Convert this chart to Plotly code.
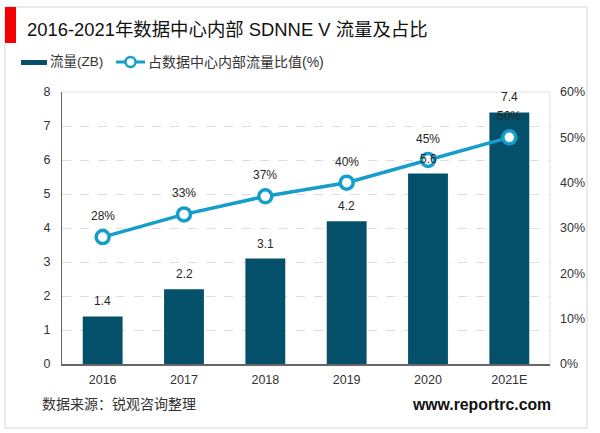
import plotly.graph_objects as go

categories = ["2016", "2017", "2018", "2019", "2020", "2021E"]
traffic = [1.4, 2.2, 3.1, 4.2, 5.6, 7.4]
share = [28, 33, 37, 40, 45, 50]
left_ticks = [0, 1, 2, 3, 4, 5, 6, 7, 8]
right_ticks = [0, 10, 20, 30, 40, 50, 60]
right_labels = ["0%", "10%", "20%", "30%", "40%", "50%", "60%"]

FONT = "Liberation Sans, Arial, Noto Sans CJK SC, sans-serif"
BAR = "#04506b"
LINE = "#159dcb"
W, H = 600, 433
def px(x): return x / W
def py(y): return 1 - y / H

fig = go.Figure()
fig.add_trace(go.Bar(x=categories, y=traffic, width=0.49, marker=dict(color=BAR, line=dict(width=0)),
                     name="流量(ZB)", showlegend=False, yaxis="y"))
fig.add_trace(go.Scatter(x=categories, y=share, yaxis="y2", mode="lines+markers",
                         name="占数据中心内部流量比值(%)", showlegend=False,
                         line=dict(color=LINE, width=3.5),
                         marker=dict(size=13, color="white", line=dict(color=LINE, width=3.5)),
                         cliponaxis=False))

shapes = [
    dict(type="rect", xref="paper", yref="paper", x0=px(5), x1=px(587), y0=py(428), y1=py(7),
         line=dict(color="#e4e4e4", width=1.5), layer="below"),
    dict(type="rect", xref="paper", yref="paper", x0=px(5), x1=px(16), y0=py(43), y1=py(7),
         line=dict(width=0), fillcolor="#f50000"),
    dict(type="line", xref="paper", yref="paper", x0=px(550), x1=px(550), y0=py(364), y1=py(92),
         line=dict(color="#e6e6e6", width=1.2)),
    dict(type="line", xref="paper", yref="paper", x0=px(62), x1=px(550), y0=py(92), y1=py(92),
         line=dict(color="#e6e6e6", width=1.2)),
    dict(type="rect", xref="paper", yref="paper", x0=px(21), x1=px(47), y0=py(65), y1=py(60),
         line=dict(width=0), fillcolor=BAR),
    dict(type="line", xref="paper", yref="paper", x0=px(116), x1=px(145), y0=py(62), y1=py(62),
         line=dict(color=LINE, width=3)),
    dict(type="circle", xref="paper", yref="paper", x0=px(125.5), x1=px(135.5), y0=py(67), y1=py(57),
         line=dict(color=LINE, width=2.5), fillcolor="white"),
]
def note(x, y, text, size, color="#262626", anchor="left", bold=False):
    return dict(xref="paper", yref="paper", x=px(x), y=py(y), text=f"<b>{text}</b>" if bold else text,
                showarrow=False, xanchor=anchor, yanchor="middle",
                font=dict(size=size, color=color, family=FONT))
annotations = [
    note(25, 29, "2016-2021年数据中心内部 SDNNE V 流量及占比", 18.4, "#111111"),
    note(48, 62, "流量(ZB)", 13.5, "#333333"),
    note(146, 62, "占数据中心内部流量比值(%)", 14, "#333333"),
    note(40, 404, "数据来源：锐观咨询整理", 14, "#333333"),
    note(553, 404, "www.reportrc.com", 15.8, "#111111", anchor="right", bold=True),
]
for i, v in enumerate(traffic):
    annotations.append(dict(x=i, y=v, xref="x", yref="y", text=f"{v}", showarrow=False, yshift=15,
                            font=dict(size=12, color="#262626", family=FONT)))
for i, v in enumerate(share):
    annotations.append(dict(x=i, y=v, xref="x", yref="y2", text=f"{v}%", showarrow=False, yshift=21,
                            font=dict(size=12, color="#262626", family=FONT)))

fig.update_layout(
    width=W, height=H, margin=dict(l=0, r=0, t=0, b=0, autoexpand=False),
    paper_bgcolor="white", plot_bgcolor="white", font=dict(family=FONT, size=12, color="#333333"),
    showlegend=False, shapes=shapes, annotations=annotations,
    xaxis=dict(type="category", range=[-0.5, 5.5], domain=[px(62), px(550)], tickmode="array", tickvals=categories,
               ticktext=categories, showgrid=False, showline=True, linecolor="#666666", linewidth=1.5, ticks="",
               zeroline=False, tickfont=dict(size=12.5, color="#333333"), ticklabelstandoff=3),
    yaxis=dict(range=[0, 8], domain=[py(364), py(92)], tickvals=left_ticks, showgrid=True, gridcolor="#dddddd",
               griddash="dash", gridwidth=1, showline=True, linecolor="#666666", linewidth=1.2, ticks="",
               zeroline=False, tickfont=dict(size=12.5, color="#333333"), ticklabelstandoff=8),
    yaxis2=dict(range=[0, 60], domain=[py(364), py(92)], tickmode="array", tickvals=right_ticks, ticktext=right_labels,
                overlaying="y", side="right", anchor="x",
                showgrid=False, showline=False, ticks="", zeroline=False,
                tickfont=dict(size=12.5, color="#333333"), ticklabelstandoff=9),
)
fig.write_html("out.html", config=dict(displayModeBar=False),
               post_script="document.body.style.margin='0';document.body.style.overflow='hidden';")
